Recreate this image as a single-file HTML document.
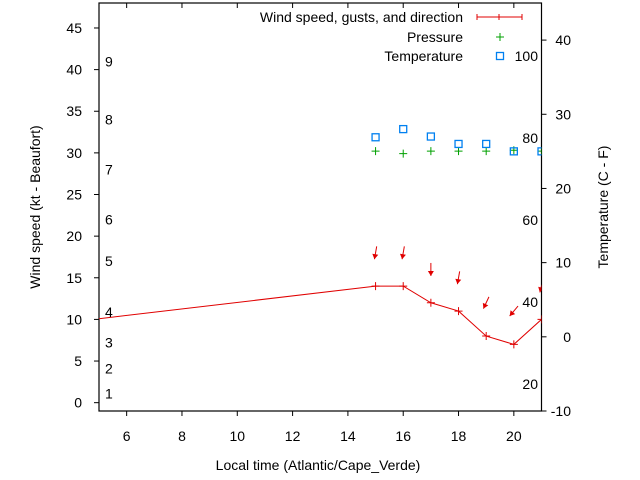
<!DOCTYPE html>
<html><head><meta charset="utf-8"><style>
html,body{margin:0;padding:0;background:#fff;}
svg{display:block;font-family:"Liberation Sans",sans-serif;}
</style></head><body>
<svg id="chart" width="640" height="480" viewBox="0 0 640 480" xmlns="http://www.w3.org/2000/svg">
<defs><clipPath id="plotclip"><rect x="99" y="3" width="442.5" height="408"/></clipPath></defs>
<g id="axes"></g>
<g id="marks" clip-path="url(#plotclip)"></g>
<g id="labels"></g>
</svg>
<script>
const hours = [3, 15, 16, 17, 18, 19, 20, 21];
const windSpeed = [9.3, 14, 14, 12, 11, 8, 7, 10];
const windDir = [0, 10, 10, 0, 10, 25, 40, 15];
const tempHours = [15, 16, 17, 18, 19, 20, 21];
const temperature = [26.9, 28, 27, 26, 26, 25, 25];
const pressure = [76.8, 76.2, 76.8, 76.8, 76.8, 77.0, 76.8];
const xTicks = [6, 8, 10, 12, 14, 16, 18, 20];
const yTicks = [0, 5, 10, 15, 20, 25, 30, 35, 40, 45];
const tTicks = [-10, 0, 10, 20, 30, 40];
const pTicks = [20, 40, 60, 80, 100];
const beaufort = [1, 2, 3, 4, 5, 6, 7, 8, 9];
const beaufortKt = [1.1, 4.1, 7.2, 10.9, 17, 22, 28, 34, 41];

const L=99,R=541.5,T=3,B=411;
const xS=h=>L+(h-5)/(21-5)*(R-L);
const yS=v=>B-(v+1)/(48+1)*(B-T);
const tS=v=>B-(v+10)/(45+10)*(B-T);
const pS=v=>466-v*4.1;
const NS="http://www.w3.org/2000/svg";
function mk(tag,attrs,parent,text){const e=document.createElementNS(NS,tag);for(const k in attrs)e.setAttribute(k,attrs[k]);if(text!==undefined)e.textContent=text;parent.appendChild(e);return e;}
const ax=document.getElementById('axes'),mg=document.getElementById('marks'),lb=document.getElementById('labels');

let frame=mk('rect',{x:L,y:T,width:R-L,height:B-T,fill:'none',stroke:'#000','stroke-width':1.2},ax);


xTicks.forEach(v=>{const x=xS(v);
 let t=mk('line',{x1:x,y1:B,x2:x,y2:B+5,stroke:'#000'},ax);
 
 
 let t2=mk('line',{x1:x,y1:T,x2:x,y2:T+5,stroke:'#000'},ax);
 
 
 let s=mk('text',{x:x,y:441,'text-anchor':'middle','font-size':14},lb,String(v));
 
 });
yTicks.forEach(v=>{const y=yS(v);
 let t=mk('line',{x1:L-5,y1:y,x2:L,y2:y,stroke:'#000'},ax);
 
 
 let s=mk('text',{x:82,y:y+5,'text-anchor':'end','font-size':14},lb,String(v));
 
 });
tTicks.forEach(v=>{const y=tS(v);
 let t=mk('line',{x1:R,y1:y,x2:R+5,y2:y,stroke:'#000'},ax);
 
 
 let s=mk('text',{x:571,y:y+5,'text-anchor':'end','font-size':14},lb,String(v));
 
 });
pTicks.forEach(v=>{const y=pS(v);
 let s=mk('text',{x:538,y:y+5,'text-anchor':'end','font-size':14},lb,String(v));
 
 });
beaufort.forEach((b,i)=>{
 let s=mk('text',{x:105,y:yS(beaufortKt[i])+5,'font-size':14},lb,String(b));
 
 });

let pts=hours.map((h,i)=>xS(h)+','+yS(windSpeed[i])).join(' ');
let wl=mk('polyline',{points:pts,fill:'none',stroke:'#e00000','stroke-width':1},mg);


hours.forEach((h,i)=>{const x=xS(h),y=yS(windSpeed[i]);
 let p=mk('path',{d:`M${x-4},${y}H${x+4}M${x},${y-4}V${y+4}`,stroke:'#e00000','stroke-width':1},mg);
 
 
 const cx=x,cy=yS(windSpeed[i]+4),a=windDir[i]*Math.PI/180,len=13;
 const dx=-Math.sin(a),dy=Math.cos(a);
 const x1=cx-dx*len/2,y1=cy-dy*len/2,x2=cx+dx*len/2,y2=cy+dy*len/2;
 const hx=-dy,hy=dx;
 let g=mk('g',{},mg);
 
 
 mk('line',{x1:x1,y1:y1,x2:x2,y2:y2,stroke:'#e00000','stroke-width':1},g);
 mk('polygon',{points:`${x2},${y2} ${x2-dx*5+hx*3},${y2-dy*5+hy*3} ${x2-dx*5-hx*3},${y2-dy*5-hy*3}`,fill:'#e00000'},g);
});
tempHours.forEach((h,i)=>{const x=xS(h);
 let y=pS(pressure[i]);
 let p=mk('path',{d:`M${x-4},${y}H${x+4}M${x},${y-4}V${y+4}`,stroke:'#00a000','stroke-width':1},mg);
 
 
 y=tS(temperature[i]);
 let r=mk('rect',{x:x-3.5,y:y-3.5,width:7,height:7,fill:'none',stroke:'#0080f0','stroke-width':1.3},mg);
 
 
});
</script>
<script>
(function(){const NS="http://www.w3.org/2000/svg",svg=document.getElementById('chart');
function t(x,y,s,anchor,name,rot){const e=document.createElementNS(NS,'text');e.setAttribute('x',x);e.setAttribute('y',y);e.setAttribute('font-size',14);e.setAttribute('text-anchor',anchor);if(rot)e.setAttribute('transform',rot);e.textContent=s;


svg.appendChild(e);return e;}
t(463,22,'Wind speed, gusts, and direction','end','legend-wind');
t(463,42,'Pressure','end','legend-pressure');
t(463,61,'Temperature','end','legend-temperature');
t(318,470,'Local time (Atlantic/Cape_Verde)','middle','x-axis-title');
t(40,207,'Wind speed (kt - Beaufort)','middle','y-axis-title','rotate(-90 40 207)');
t(608,207,'Temperature (C - F)','middle','y2-axis-title','rotate(-90 608 207)');
const g=document.createElementNS(NS,'path');
g.setAttribute('d','M477,17H522M477,14V20M499,14V20M522,14V20M496,37H504M500,33V41');
g.setAttribute('stroke','#e00000');g.setAttribute('fill','none');


svg.appendChild(g);
g.setAttribute('d','M477,17H522M477,14V20M499,14V20M522,14V20');
const p=document.createElementNS(NS,'path');p.setAttribute('d','M496,37H504M500,33V41');p.setAttribute('stroke','#00a000');


svg.appendChild(p);
const r=document.createElementNS(NS,'rect');r.setAttribute('x',496.5);r.setAttribute('y',52.5);r.setAttribute('width',7);r.setAttribute('height',7);r.setAttribute('fill','none');r.setAttribute('stroke','#0080f0');r.setAttribute('stroke-width',1.3);


svg.appendChild(r);
})();
</script>
</body></html>
